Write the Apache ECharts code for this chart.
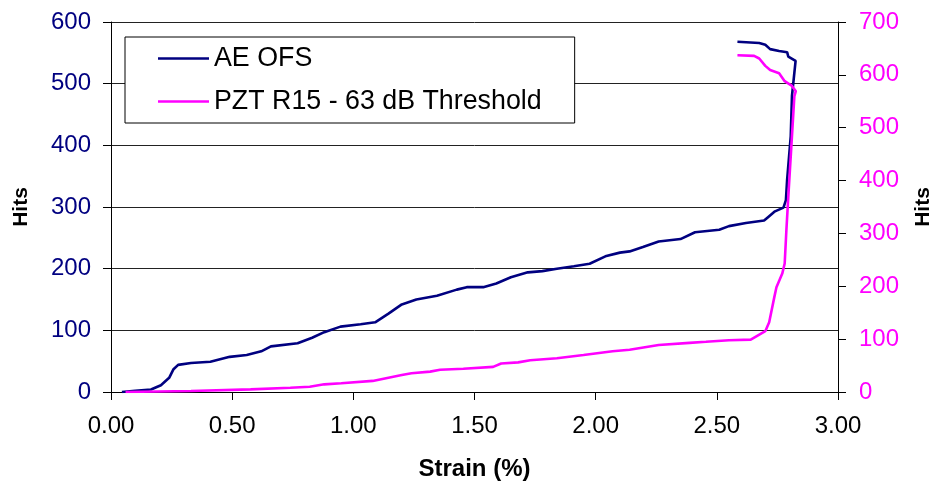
<!DOCTYPE html>
<html>
<head>
<meta charset="utf-8">
<script src="https://cdn.jsdelivr.net/npm/echarts@6/dist/echarts.min.js"></script>
<style>html,body{margin:0;padding:0;background:#fff}#c{width:935px;height:486px}</style>
</head>
<body>
<div id="c"></div>
<script>
// AE OFS: [strain %, hits] on left axis
var aeStrain = [0.045,0.10,0.165,0.206,0.24,0.258,0.277,0.33,0.41,0.49,0.56,0.62,0.66,0.77,0.83,0.88,0.947,1.03,1.09,1.145,1.20,1.26,1.345,1.427,1.468,1.536,1.59,1.65,1.72,1.78,1.84,1.91,1.975,2.04,2.10,2.14,2.195,2.26,2.35,2.41,2.51,2.55,2.62,2.695,2.71,2.74,2.775,2.785,2.79,2.805,2.81,2.825,2.795,2.79,2.757,2.72,2.70,2.675,2.585];
var aeHits   = [0,2,4,11,23,37,44,47,49,57,60,66,74,79,88,97,106,110,113,127,142,150,156,166,170,170,176,186,194,196,200,204,208,220,226,228,235,244,248,259,263,269,274,278,283,293,299,311,344,415,480,537,544,551,553,556,563,566,568];
// PZT R15: [strain %, hits] on right axis
var pztStrain = [0.06,0.33,0.576,0.74,0.82,0.88,0.95,1.08,1.145,1.20,1.24,1.317,1.358,1.454,1.577,1.61,1.68,1.73,1.84,1.95,2.07,2.14,2.26,2.387,2.455,2.55,2.64,2.70,2.716,2.737,2.746,2.77,2.78,2.787,2.795,2.81,2.82,2.826,2.81,2.78,2.757,2.72,2.70,2.675,2.654,2.585];
var pztHits   = [0,2,5,8,10,14.5,16.5,21,27,32,35.5,38.6,42,44,47.5,54,56,60,64,70,77,80,89,93,95,98,99,115,132,179,198,224,243,306,370,484,560,569,579,588,603,609,617,631,636,637];
var seriesNames = ['AE OFS', 'PZT R15 - 63 dB Threshold'];
var xTicks = {min: 0, max: 3, interval: 0.5};
var yLeftTicks = {min: 0, max: 600, interval: 100};
var yRightTicks = {min: 0, max: 700, interval: 100};

function pairs(xs, ys){ return xs.map(function(x,i){ return [x, ys[i]]; }); }

var FONT = '"Liberation Sans", Arial, sans-serif';
var chart = echarts.init(document.getElementById('c'), null, {renderer: 'canvas'});
chart.setOption({
  animation: false,
  backgroundColor: '#fff',
  grid: {left: 111, right: 97, top: 22, bottom: 94, containLabel: false, outerBoundsMode: 'none'},
  legend: {
    orient: 'vertical', left: 125, top: 37,
    padding: [8, 33, 8, 33], itemGap: 16,
    itemWidth: 51, itemHeight: 2.5, icon: 'rect',
    borderColor: '#000', borderWidth: 1, backgroundColor: '#fff',
    textStyle: {fontFamily: FONT, fontSize: 26.8, lineHeight: 26, color: '#000'},
    data: seriesNames
  },
  xAxis: {
    type: 'value', min: xTicks.min, max: xTicks.max, interval: xTicks.interval,
    name: 'Strain (%)', nameLocation: 'middle', nameGap: 65,
    nameTextStyle: {fontFamily: FONT, fontSize: 24, fontWeight: 'bold', color: '#000'},
    axisLine: {lineStyle: {color: '#000', width: 1}},
    axisTick: {show: true, inside: false, length: 8, lineStyle: {color: '#000'}},
    axisLabel: {fontFamily: FONT, fontSize: 24, color: '#000', margin: 22,
      formatter: function(v){ return v.toFixed(2); }},
    splitLine: {show: false}
  },
  yAxis: [{
    type: 'value', position: 'left', min: yLeftTicks.min, max: yLeftTicks.max, interval: yLeftTicks.interval,
    name: 'Hits', nameLocation: 'middle', nameGap: 79, nameRotate: 90,
    nameTextStyle: {fontFamily: FONT, fontSize: 21, fontWeight: 'bold', color: '#000'},
    axisLine: {show: true, lineStyle: {color: '#000', width: 1}},
    axisTick: {show: true, length: 8, lineStyle: {color: '#000'}},
    axisLabel: {fontFamily: FONT, fontSize: 24, color: '#000080', margin: 20},
    splitLine: {show: true, lineStyle: {color: '#222', width: 1}}
  }, {
    type: 'value', position: 'right', min: yRightTicks.min, max: yRightTicks.max, interval: yRightTicks.interval,
    name: 'Hits', nameLocation: 'middle', nameGap: 75, nameRotate: 90,
    nameTextStyle: {fontFamily: FONT, fontSize: 21, fontWeight: 'bold', color: '#000'},
    axisLine: {show: true, lineStyle: {color: '#000', width: 1}},
    axisTick: {show: true, length: 8, lineStyle: {color: '#000'}},
    axisLabel: {fontFamily: FONT, fontSize: 24, color: '#FF00FF', margin: 21},
    splitLine: {show: false}
  }],
  series: [{
    name: seriesNames[0], type: 'line', yAxisIndex: 0, symbol: 'none', showSymbol: false,
    color: '#000080', lineStyle: {color: '#000080', width: 2.6},
    data: pairs(aeStrain, aeHits)
  }, {
    name: seriesNames[1], type: 'line', yAxisIndex: 1, symbol: 'none', showSymbol: false,
    color: '#FF00FF', lineStyle: {color: '#FF00FF', width: 2.6},
    data: pairs(pztStrain, pztHits)
  }]
});
</script>
</body>
</html>
